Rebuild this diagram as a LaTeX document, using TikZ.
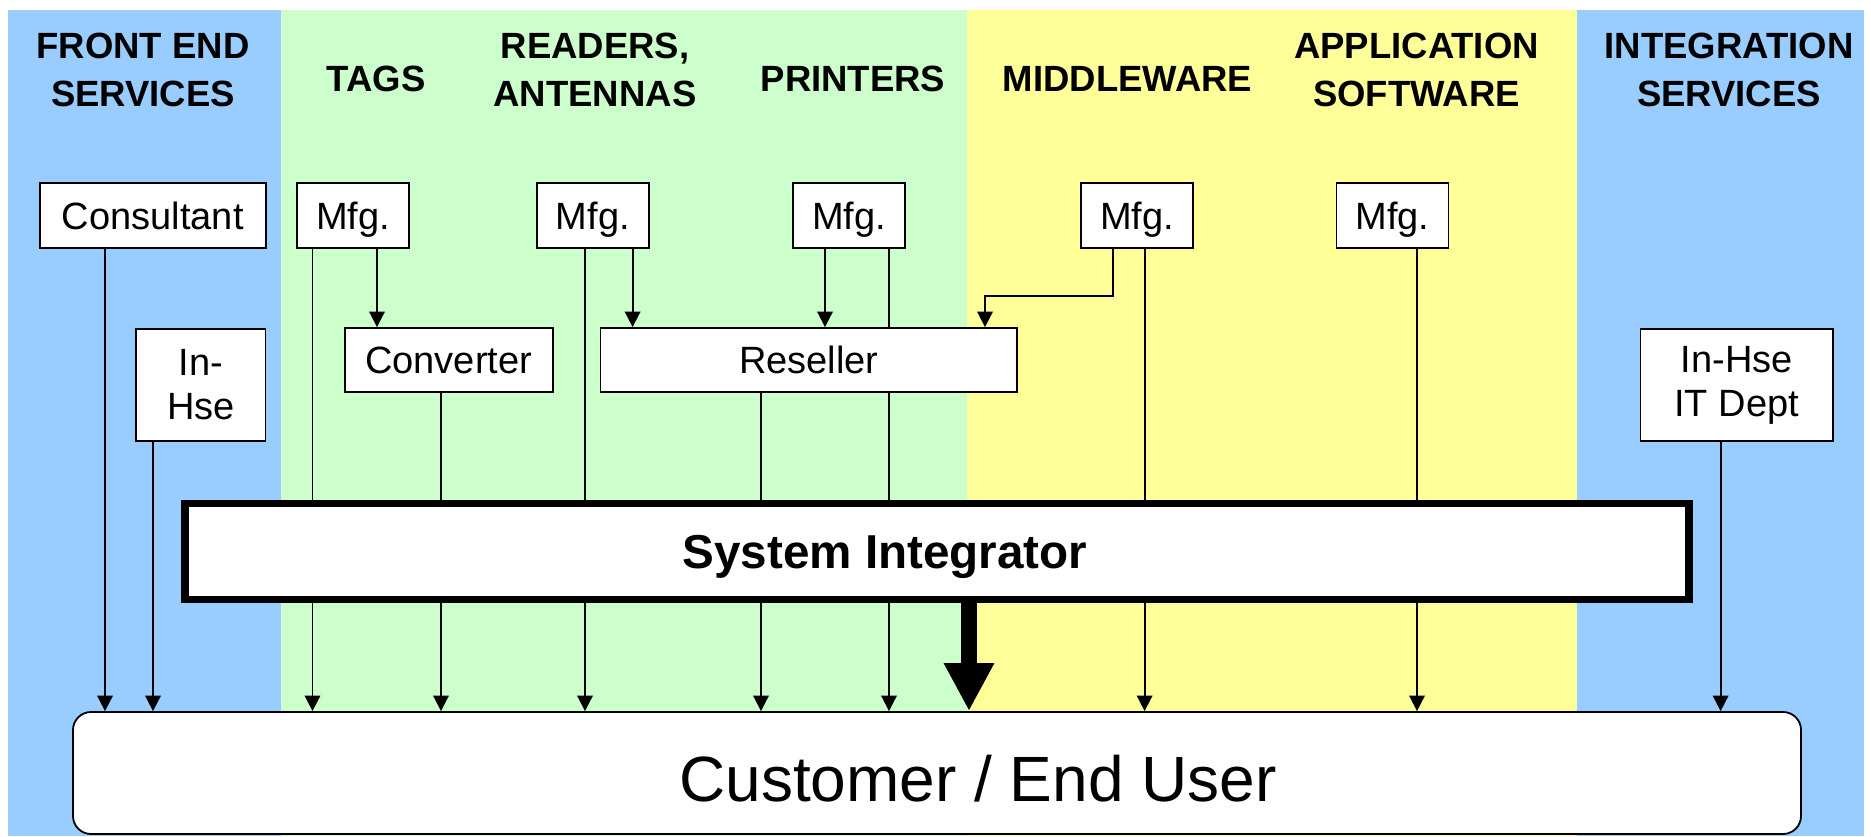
\documentclass[tikz,border=0pt]{standalone}
\usepackage{fontspec}
\setmainfont{Liberation Sans}
\usetikzlibrary{arrows.meta,calc}
\definecolor{bandblue}{HTML}{99CCFF}
\definecolor{bandgreen}{HTML}{CCFFCC}
\definecolor{bandyellow}{HTML}{FFFF99}
\pgfdeclarelayer{bands}
\pgfdeclarelayer{links}
\pgfsetlayers{bands,links,main}
\tikzset{
  box/.style={draw, fill=white, line width=0.9pt, inner sep=0pt,
    font=\fontsize{19pt}{22pt}\selectfont},
  oneline/.style={box, text height=13.6pt, text depth=0pt},
  mfgbox/.style={oneline, minimum width=56pt, minimum height=32.5pt},
  head/.style={font=\bfseries\fontsize{18.25pt}{24pt}\selectfont, align=center, inner sep=0pt},
  link/.style={line width=0.9pt},
  arr/.style={link, -{Triangle[length=7.75pt,width=7.75pt]}},
  bigarr/.style={line width=8pt, -{Triangle[length=24pt,width=23.5pt]}},
}
\begin{document}
\begin{tikzpicture}[x=0.5pt,y=-0.5pt]
\useasboundingbox (0,0) rectangle (1871,836);

% column bands
\begin{pgfonlayer}{bands}
  \fill[white] (0,0) rectangle (1871,836);
  \fill[bandblue]   (8,10)    rectangle (281,836);
  \fill[bandgreen]  (281,10)  rectangle (967,836);
  \fill[bandyellow] (967,10)  rectangle (1577,836);
  \fill[bandblue]   (1577,10) rectangle (1864,836);
\end{pgfonlayer}

% column headings
\node[head] (hfront) at (143,70)    {FRONT END\\SERVICES};
\node[head] (htags)  at (376,78.5)  {TAGS};
\node[head] (hread)  at (595,70)    {READERS,\\ANTENNAS};
\node[head] (hprint) at (853,78.5)  {PRINTERS};
\node[head] (hmid)   at (1127.6,78.5) {MIDDLEWARE};
\node[head] (happ)   at (1416.5,70) {APPLICATION\\SOFTWARE};
\node[head] (hint)   at (1729,70)   {INTEGRATION\\SERVICES};

% suppliers
\node[oneline, minimum width=112.8pt, minimum height=32.5pt] (cons) at (152.8,215.5) {Consultant};
\node[box, align=center, minimum width=64.75pt, minimum height=56pt] (inhse) at (200.8,385) {In-\\Hse};
\node[mfgbox] (tmfg) at (353,215.5) {Mfg.};
\node[oneline, minimum width=104pt, minimum height=32pt] (conv) at (448.6,360) {Converter};
\node[mfgbox] (rmfg) at (592.8,215.5) {Mfg.};
\node[oneline, minimum width=208.3pt, minimum height=32pt] (resel) at (808.7,360) {Reseller};
\node[mfgbox] (pmfg) at (849,215.5) {Mfg.};
\node[mfgbox] (mmfg) at (1137,215.5) {Mfg.};
\node[mfgbox] (amfg) at (1392.5,215.5) {Mfg.};
\node[box, align=center, minimum width=96.15pt, minimum height=56pt] (itd) at (1736.6,385) {In-Hse\\IT Dept};

% integrator and customer
\node[draw, fill=white, line width=3.75pt, inner sep=0pt, minimum width=752pt, minimum height=48pt,
  font=\bfseries\fontsize{23.8pt}{28pt}\selectfont, text height=17pt, text depth=0pt]
  (si) at (937,551.7) {System Integrator\hspace*{52pt}};
\node[draw, fill=white, rounded corners=9pt, line width=0.9pt, inner sep=0pt,
  minimum width=864pt, minimum height=61pt,
  font=\fontsize{32pt}{38pt}\selectfont, text height=28.9pt, text depth=0pt]
  (cust) at (937,773) {\hspace*{41pt}Customer / End User};

% line columns
\coordinate (xcons) at (105,0);
\coordinate (xinh)  at (153,0);
\coordinate (xta)   at (312.5,0);
\coordinate (xtb)   at (377,0);
\coordinate (xconv) at (441,0);
\coordinate (xra)   at (585,0);
\coordinate (xrb)   at (632.6,0);
\coordinate (xres)  at (761,0);
\coordinate (xpa)   at (825,0);
\coordinate (xpb)   at (889,0);
\coordinate (xbig)  at (969,0);
\coordinate (xmin)  at (985,0);
\coordinate (melb)  at (1113,296);
\coordinate (xmb)   at (1144.6,0);
\coordinate (xapp)  at (1417,0);
\coordinate (xitd)  at (1720.6,0);

\begin{pgfonlayer}{links}
  \draw[arr] (cons.south -| xcons) -- (cust.north -| xcons);
  \draw[arr] (inhse.south -| xinh) -- (cust.north -| xinh);
  \draw[arr] (tmfg.south -| xta) -- (cust.north -| xta);
  \draw[arr] (tmfg.south -| xtb) -- (conv.north -| xtb);
  \draw[arr] (conv.south -| xconv) -- (cust.north -| xconv);
  \draw[arr] (rmfg.south -| xra) -- (cust.north -| xra);
  \draw[arr] (rmfg.south -| xrb) -- (resel.north -| xrb);
  \draw[arr] (resel.south -| xres) -- (cust.north -| xres);
  \draw[arr] (pmfg.south -| xpa) -- (resel.north -| xpa);
  \draw[link] (pmfg.south -| xpb) -- (resel.north -| xpb);
  \draw[arr] (resel.south -| xpb) -- (cust.north -| xpb);
  \draw[arr] (mmfg.south -| melb) -- (melb) -| (resel.north -| xmin);
  \draw[arr] (mmfg.south -| xmb) -- (cust.north -| xmb);
  \draw[arr] (amfg.south -| xapp) -- (cust.north -| xapp);
  \draw[arr] (itd.south -| xitd) -- (cust.north -| xitd);
  \draw[bigarr] (si.south -| xbig) -- (cust.north -| xbig);
\end{pgfonlayer}
\end{tikzpicture}
\end{document}
